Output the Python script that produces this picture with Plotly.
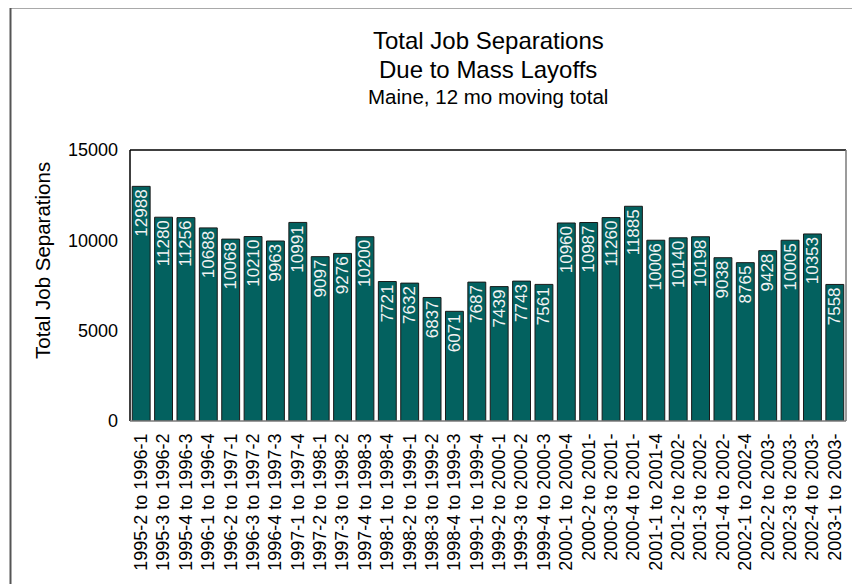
import plotly.graph_objects as go

categories = [
    "1995-2 to 1996-1", "1995-3 to 1996-2", "1995-4 to 1996-3", "1996-1 to 1996-4",
    "1996-2 to 1997-1", "1996-3 to 1997-2", "1996-4 to 1997-3", "1997-1 to 1997-4",
    "1997-2 to 1998-1", "1997-3 to 1998-2", "1997-4 to 1998-3", "1998-1 to 1998-4",
    "1998-2 to 1999-1", "1998-3 to 1999-2", "1998-4 to 1999-3", "1999-1 to 1999-4",
    "1999-2 to 2000-1", "1999-3 to 2000-2", "1999-4 to 2000-3", "2000-1 to 2000-4",
    "2000-2 to 2001-", "2000-3 to 2001-", "2000-4 to 2001-", "2001-1 to 2001-4",
    "2001-2 to 2002-", "2001-3 to 2002-", "2001-4 to 2002-", "2002-1 to 2002-4",
    "2002-2 to 2003-", "2002-3 to 2003-", "2002-4 to 2003-", "2003-1 to 2003-",
]
values = [
    12988, 11280, 11256, 10688, 10068, 10210, 9963, 10991,
    9097, 9276, 10200, 7721, 7632, 6837, 6071, 7687,
    7439, 7743, 7561, 10960, 10987, 11260, 11885, 10006,
    10140, 10198, 9038, 8765, 9428, 10005, 10353, 7558,
]
y_ticks = [0, 5000, 10000, 15000]

FONT = "Arial, 'Liberation Sans', sans-serif"
W, H = 860, 584
OFF = 8  # page body margin offset
SL, SR, ST, SB = 130, 846, 150, 421
L, T = SL - OFF, ST - OFF
R = W - (SR - OFF)
B = H - (SB - OFF)
pw, ph = W - L - R, H - T - B

def px(x):
    return (x - OFF - L) / pw

def py(y):
    return (H - B - (y - OFF)) / ph

fig = go.Figure(go.Bar(
    x=categories, y=values,
    marker=dict(color="#03615F", line=dict(color="#1a1a1a", width=1)),
    text=[str(v) for v in values],
    textposition="inside", insidetextanchor="end", textangle=-90,
    constraintext="none",
    insidetextfont=dict(family=FONT, size=17, color="#f2f2f2"),
    cliponaxis=False,
))

shapes = [
    dict(type="line", xref="paper", yref="paper", x0=0, x1=1, y0=1, y1=1, line=dict(color="black", width=1.5)),
    dict(type="line", xref="paper", yref="paper", x0=0, x1=0, y0=0, y1=1, line=dict(color="black", width=1.5)),
    dict(type="line", xref="paper", yref="paper", x0=1, x1=1, y0=0, y1=1, line=dict(color="#7a7a7a", width=1.5)),
    dict(type="line", xref="paper", yref="paper", x0=0, x1=1, y0=0, y1=0, line=dict(color="#7a7a7a", width=1.5)),
    dict(type="line", xref="paper", yref="paper", x0=px(10.5), x1=px(10.5), y0=py(600), y1=py(7.5), line=dict(color="#555555", width=2)),
    dict(type="line", xref="paper", yref="paper", x0=px(10.5), x1=px(880), y0=py(7.5), y1=py(7.5), line=dict(color="#555555", width=2)),
]

annotations = [
    dict(text="Total Job Separations", xref="paper", yref="paper", x=0.5, y=py(41),
         xanchor="center", yanchor="middle", showarrow=False, font=dict(family=FONT, size=24, color="black")),
    dict(text="Due to Mass Layoffs", xref="paper", yref="paper", x=0.5, y=py(69.5),
         xanchor="center", yanchor="middle", showarrow=False, font=dict(family=FONT, size=24, color="black")),
    dict(text="Maine, 12 mo moving total", xref="paper", yref="paper", x=0.5, y=py(96),
         xanchor="center", yanchor="middle", showarrow=False, font=dict(family=FONT, size=20.5, color="black")),
    dict(text="Total Job Separations", xref="paper", yref="paper", x=px(42), y=py(261),
         xanchor="center", yanchor="middle", textangle=-90, showarrow=False,
         font=dict(family=FONT, size=20.5, color="black")),
]

fig.update_layout(
    width=W, height=H,
    margin=dict(l=L, r=R, t=T, b=B, autoexpand=False),
    paper_bgcolor="white", plot_bgcolor="white",
    bargap=0.2, showlegend=False,
    shapes=shapes, annotations=annotations,
    font=dict(family=FONT, color="black"),
)
fig.update_xaxes(
    type="category", tickangle=-90, tickmode="array", tickvals=categories, ticktext=categories,
    tickfont=dict(family=FONT, size=18, color="black"),
    showline=False, showgrid=False, ticks="", ticklabelstandoff=8,
)
fig.update_yaxes(
    range=[0, 15000], tickmode="array", tickvals=y_ticks, ticktext=[str(t) for t in y_ticks],
    tickfont=dict(family=FONT, size=18, color="black"),
    showline=False, showgrid=False, zeroline=False, ticks="", ticklabelstandoff=11,
)

fig.write_html("out.html")
